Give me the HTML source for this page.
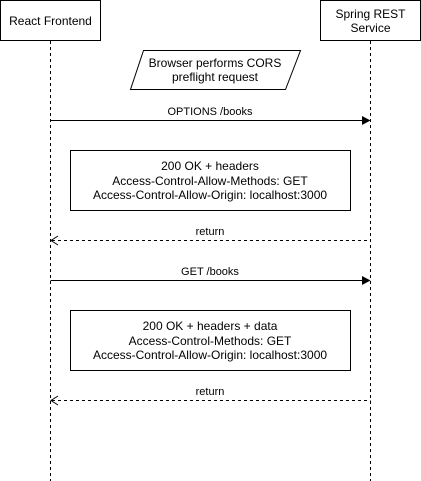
<!DOCTYPE html>
<html><head><meta charset="utf-8"><style>html,body{margin:0;padding:0;background:#fff}svg{display:block}</style></head>
<body>
<svg width="421" height="481" xmlns="http://www.w3.org/2000/svg" font-family="Liberation Sans, sans-serif" font-size="11" text-anchor="middle" fill="#000">
<g stroke="#000" stroke-width="1" fill="none">
<rect x="0.5" y="0.5" width="100" height="40" fill="#fff"/>
<rect x="320.5" y="0.5" width="100" height="40" fill="#fff"/>
<line x1="50.5" y1="41" x2="50.5" y2="481" stroke-dasharray="3,3"/>
<line x1="370.5" y1="41" x2="370.5" y2="481" stroke-dasharray="3,3"/>
<polygon points="143.5,50.5 300.5,50.5 285.5,89.5 130.5,89.5" fill="#fff"/>
<line x1="50.5" y1="120.5" x2="362" y2="120.5"/>
<rect x="70.5" y="150.5" width="280" height="60" fill="#fff"/>
<line x1="52" y1="240.5" x2="370.5" y2="240.5" stroke-dasharray="3,3"/>
<polyline points="58,236 51,240.5 58,245"/>
<line x1="50.5" y1="280.5" x2="362" y2="280.5"/>
<rect x="70.5" y="310.5" width="280" height="60" fill="#fff"/>
<line x1="52" y1="400.5" x2="370.5" y2="400.5" stroke-dasharray="3,3"/>
<polyline points="58,396 51,400.5 58,405"/>
</g>
<polygon points="370.5,120.5 362,116 362,125" fill="#000"/>
<polygon points="370.5,280.5 362,276 362,285" fill="#000"/>
<g font-size="12">
<text x="50.5" y="25">React Frontend</text>
<text x="370.5" y="18">Spring REST</text>
<text x="370.5" y="32">Service</text>
<text x="215" y="67">Browser performs CORS</text>
<text x="215" y="81">preflight request</text>
<text x="210" y="170">200 OK + headers</text>
<text x="210" y="185">Access-Control-Allow-Methods: GET</text>
<text x="210" y="199">Access-Control-Allow-Origin: localhost:3000</text>
<text x="210" y="330">200 OK + headers + data</text>
<text x="210" y="345">Access-Control-Methods: GET</text>
<text x="210" y="359">Access-Control-Allow-Origin: localhost:3000</text>
</g>
<text x="210" y="115">OPTIONS /books</text>
<text x="210" y="235">return</text>
<text x="210" y="275">GET /books</text>
<text x="210" y="395">return</text>
</svg>
</body></html>
